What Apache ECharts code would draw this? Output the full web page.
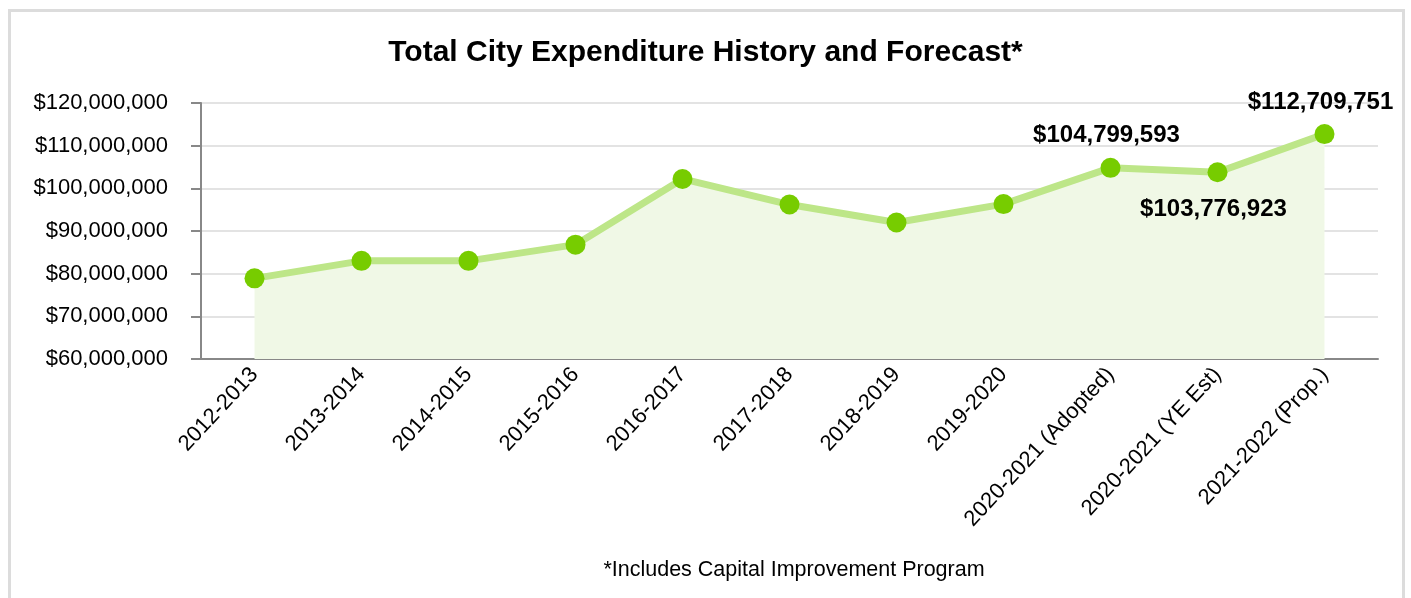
<!DOCTYPE html>
<html style="height: 100%">
<head>
    <meta charset="utf-8">
    <style>
        html, body {
            height: 100%;
            margin: 0;
            padding: 0;
            overflow: hidden;
            background: #fff;
        }
        .frame {
            position: absolute;
            left: 8px;
            top: 9px;
            width: 1391px;
            height: 600px;
            border: 3px solid #dcdcdc;
        }
        #container {
            position: absolute;
            left: 0;
            top: 0;
            width: 1411px;
            height: 598px;
        }
    </style>
</head>
<body>
    <div class="frame"></div>
    <div id="container"></div>

    <script src="https://cdn.jsdelivr.net/npm/echarts/dist/echarts.min.js"></script>
    <script>
        var years = ['2012-2013', '2013-2014', '2014-2015', '2015-2016', '2016-2017', '2017-2018',
            '2018-2019', '2019-2020', '2020-2021 (Adopted)', '2020-2021 (YE Est)', '2021-2022 (Prop.)'];
        var expenditure = [78900000, 83000000, 83000000, 86800000, 102200000, 96200000,
            92000000, 96300000, 104799593, 103776923, 112709751];
        // which points carry a value label, and where
        var labelled = { 8: 'top', 9: 'bottom', 10: 'top' };

        var font = 'Liberation Sans, Arial, sans-serif';
        function money(v) {
            return '$' + Math.round(v).toString().replace(/\B(?=(\d{3})+(?!\d))/g, ',');
        }

        var myChart = echarts.init(document.getElementById('container'));

        var points = expenditure.map(function (v, i) {
            var item = { value: v };
            if (labelled[i]) {
                item.label = {
                    show: true,
                    position: labelled[i],
                    distance: labelled[i] === 'top' ? 10 : 15,
                    offset: [-4, 0],
                    formatter: function (p) { return money(p.value); },
                    fontFamily: font,
                    fontWeight: 'bold',
                    fontSize: 24,
                    color: '#000'
                };
            }
            return item;
        });

        var option = {
            animation: false,
            title: [{
                text: 'Total City Expenditure History and Forecast*',
                left: 'center',
                top: 33,
                textStyle: { fontFamily: font, fontWeight: 'bold', fontSize: 30, color: '#000' }
            }, {
                text: '*Includes Capital Improvement Program',
                left: 789,
                textAlign: 'center',
                top: 554,
                textStyle: { fontFamily: font, fontWeight: 'normal', fontSize: 21.5, color: '#000' }
            }],
            grid: { left: 201, right: 33, top: 103, bottom: 239 },
            xAxis: {
                type: 'category',
                data: years,
                boundaryGap: true,
                axisLine: { lineStyle: { color: '#888', width: 2 } },
                axisTick: { show: false },
                axisLabel: { rotate: 47, margin: 12, interval: 0, fontFamily: font, fontSize: 22, color: '#000' }
            },
            yAxis: {
                type: 'value',
                min: 60000000,
                max: 120000000,
                interval: 10000000,
                axisLine: { show: true, lineStyle: { color: '#888', width: 2 } },
                axisTick: { show: true, length: 10, lineStyle: { color: '#888', width: 2 } },
                splitLine: { lineStyle: { color: '#e3e3e3', width: 2 } },
                axisLabel: { formatter: money, margin: 33, fontFamily: font, fontSize: 22, color: '#000' }
            },
            series: [{
                type: 'line',
                data: points,
                symbol: 'circle',
                symbolSize: 20,
                itemStyle: { color: '#77cc00' },
                lineStyle: { color: '#bde688', width: 7 },
                areaStyle: { color: '#f0f8e6', opacity: 1, origin: 'start' },
                z: 3
            }]
        };
        myChart.setOption(option);
    </script>
</body>
</html>
